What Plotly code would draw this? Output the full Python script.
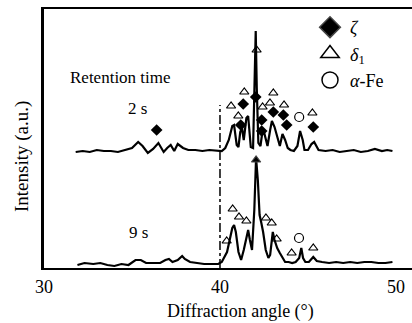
import plotly.graph_objects as go

# ---- data ----
angle_2s = [31.8, 32.2, 32.6, 33.0, 33.4, 33.8, 34.2, 34.6, 35.0, 35.35, 35.6, 35.9, 36.2, 36.5,
            36.8, 37.0, 37.2, 37.4, 37.6, 37.9, 38.2, 38.6, 39.0, 39.4, 39.8, 40.1, 40.3, 40.5,
            40.7, 40.8, 40.95, 41.05, 41.15, 41.25, 41.35, 41.5, 41.6, 41.75, 41.88, 41.97, 42.03,
            42.09, 42.18, 42.3, 42.4, 42.5, 42.6, 42.7, 42.85, 42.95, 43.1, 43.25, 43.4, 43.55,
            43.7, 43.85, 44.0, 44.2, 44.4, 44.55, 44.7, 44.8, 45.0, 45.2, 45.35, 45.6, 46.0,
            46.4, 46.8, 47.2, 47.6, 48.0, 48.4, 48.8, 49.2, 49.5, 49.8]
inten_2s = [116, 117, 116, 118, 117, 117, 116, 118, 120, 126, 122, 115, 119, 125,
            116, 120, 123, 117, 124, 120, 118, 118, 117, 118, 117, 117, 120, 128,
            142, 143, 123, 121, 136, 140, 128, 150, 152, 121, 120, 180, 237,
            180, 125, 122, 135, 136, 128, 122, 138, 147, 141, 130, 122, 134,
            128, 120, 118, 117, 122, 137, 128, 118, 118, 124, 126, 118, 117,
            118, 116, 117, 118, 116, 117, 119, 117, 118, 117]

angle_9s = [31.9, 32.3, 32.8, 33.2, 33.6, 34.0, 34.4, 34.8, 35.2, 35.5, 35.8, 36.2, 36.6, 36.9,
            37.1, 37.3, 37.6, 37.85, 38.0, 38.3, 38.7, 39.1, 39.5, 39.9, 40.1, 40.25, 40.4,
            40.55, 40.7, 40.8, 40.9, 41.05, 41.2, 41.35, 41.5, 41.6, 41.7, 41.82, 41.95, 42.05,
            42.15, 42.25, 42.35, 42.45, 42.6, 42.75, 42.85, 42.95, 43.0, 43.1, 43.25, 43.4,
            43.55, 43.7, 43.9, 44.1, 44.3, 44.5, 44.62, 44.72, 44.85, 45.05, 45.3, 45.5, 45.8,
            46.2, 46.6, 47.0, 47.4, 47.8, 48.2, 48.6, 49.0, 49.4, 49.8]
inten_9s = [3, 5, 4, 5, 3, 2, 4, 3, 8, 8, 5, 5, 5, 8,
            9, 6, 8, 12, 9, 6, 5, 4, 4, 4, 6, 11, 16,
            28, 40, 43, 36, 16, 8, 18, 32, 38, 28, 18, 58, 110,
            88, 53, 45, 36, 18, 10, 13, 33, 36, 28, 20, 15,
            10, 6, 6, 5, 6, 10, 20, 10, 6, 6, 11, 7, 6,
            5, 6, 5, 6, 5, 6, 6, 5, 5, 6]

# phase markers (angle, intensity)
zeta_x = [36.4, 41.18, 41.32, 42.03, 42.37, 42.37, 43.03, 43.6, 43.79, 45.3]
zeta_y = [138, 143, 164, 171, 148, 137, 156, 153, 143, 141]
delta_2s_x = [40.63, 41.04, 41.38, 42.08, 42.42, 42.84, 43.03, 43.64, 45.25]
delta_2s_y = [162, 152, 176, 218, 161, 165, 175, 163, 155]
delta_9s_x = [40.38, 40.72, 41.08, 41.5, 42.05, 42.61, 42.94, 43.22, 44.07, 45.3]
delta_9s_y = [27, 59, 51, 47, 108, 50, 45, 29, 15, 20]
delta_9s_filled = [False, False, False, False, True, False, False, False, False, False]
fe_x = [44.5, 44.49]
fe_y = [151, 30]

boundary_angle = [40, 40]
boundary_inten = [0, 163]

series_labels = ["2 s", "9 s"]
legend_labels = ["<i>ζ</i>", "<i>δ</i><sub>1</sub>", "<i>α</i>-Fe"]
x_ticks = [30, 40, 50]

FONT = "Liberation Serif"

fig = go.Figure()

fig.add_trace(go.Scatter(x=boundary_angle, y=boundary_inten, mode="lines",
                         line=dict(color="black", width=1.5, dash="dashdot"),
                         showlegend=False, hoverinfo="skip"))
fig.add_trace(go.Scatter(x=angle_2s, y=inten_2s, mode="lines",
                         line=dict(color="black", width=2.2), showlegend=False, name="2 s"))
fig.add_trace(go.Scatter(x=angle_9s, y=inten_9s, mode="lines",
                         line=dict(color="black", width=2.2), showlegend=False, name="9 s"))

fig.add_trace(go.Scatter(x=zeta_x, y=zeta_y, mode="markers", showlegend=False,
                         marker=dict(symbol="diamond", size=9, color="black")))
fig.add_trace(go.Scatter(x=delta_2s_x, y=delta_2s_y, mode="markers", showlegend=False,
                         marker=dict(symbol="triangle-up-open", size=8, color="black",
                                     line=dict(width=1.2))))
fig.add_trace(go.Scatter(x=delta_9s_x, y=delta_9s_y, mode="markers", showlegend=False,
                         marker=dict(symbol=["triangle-up" if f else "triangle-up-open"
                                             for f in delta_9s_filled],
                                     size=8, color="black", line=dict(width=1.2))))
fig.add_trace(go.Scatter(x=fe_x, y=fe_y, mode="markers", showlegend=False,
                         marker=dict(symbol="circle-open", size=9, color="black",
                                     line=dict(width=1.2))))

# legend-only entries
for sym, lab in zip(["diamond", "triangle-up-open", "circle-open"], legend_labels):
    fig.add_trace(go.Scatter(x=[None], y=[None], mode="markers", name=lab,
                             marker=dict(symbol=sym, size=16, color="black",
                                         line=dict(width=1.5))))

fig.update_layout(
    width=412, height=323,
    margin=dict(l=44, r=0, t=9, b=55, autoexpand=False),
    paper_bgcolor="white", plot_bgcolor="white",
    font=dict(family=FONT, color="black", size=15),
    showlegend=True,
    legend=dict(x=(310 - 44) / 368, y=1.0, xanchor="left", yanchor="top",
                bgcolor="rgba(0,0,0,0)", font=dict(family=FONT, size=18),
                tracegroupgap=0, itemsizing="trace"),
    xaxis=dict(range=[30, 50.91], tickvals=x_ticks, ticktext=[str(t) for t in x_ticks],
               showgrid=False, zeroline=False, showline=True, linecolor="black",
               linewidth=2, mirror=True, ticks="", ticklabelstandoff=1, automargin=False,
               tickfont=dict(family=FONT, size=18)),
    yaxis=dict(range=[0, 259], showticklabels=False, showgrid=False, zeroline=False,
               showline=True, linecolor="black", linewidth=2.5, ticks="", automargin=False),
    annotations=[
        dict(text="Diffraction angle (°)", xref="paper", yref="paper", x=(240 - 44) / 368,
             y=-43 / 259, xanchor="center", yanchor="middle", showarrow=False,
             font=dict(family=FONT, size=18)),
        dict(text="Intensity (a.u.)", xref="paper", yref="paper", x=(22 - 44) / 368,
             y=(268 - 157) / 259, xanchor="center", yanchor="middle", showarrow=False,
             textangle=-90, font=dict(family=FONT, size=19)),
        dict(text="Retention time", xref="paper", yref="paper", x=(68 - 44) / 368,
             y=(268 - 77) / 259, xanchor="left", yanchor="middle", showarrow=False,
             font=dict(family=FONT, size=17)),
        dict(text=series_labels[0], xref="paper", yref="paper", x=(137 - 44) / 368,
             y=(268 - 108) / 259, xanchor="center", yanchor="middle", showarrow=False,
             font=dict(family=FONT, size=17)),
        dict(text=series_labels[1], xref="paper", yref="paper", x=(138 - 44) / 368,
             y=(268 - 232) / 259, xanchor="center", yanchor="middle", showarrow=False,
             font=dict(family=FONT, size=17)),
    ],
)

fig.write_html("out.html", config={"displayModeBar": False},
               post_script="document.body.style.margin='0';document.body.style.overflow='hidden';")
